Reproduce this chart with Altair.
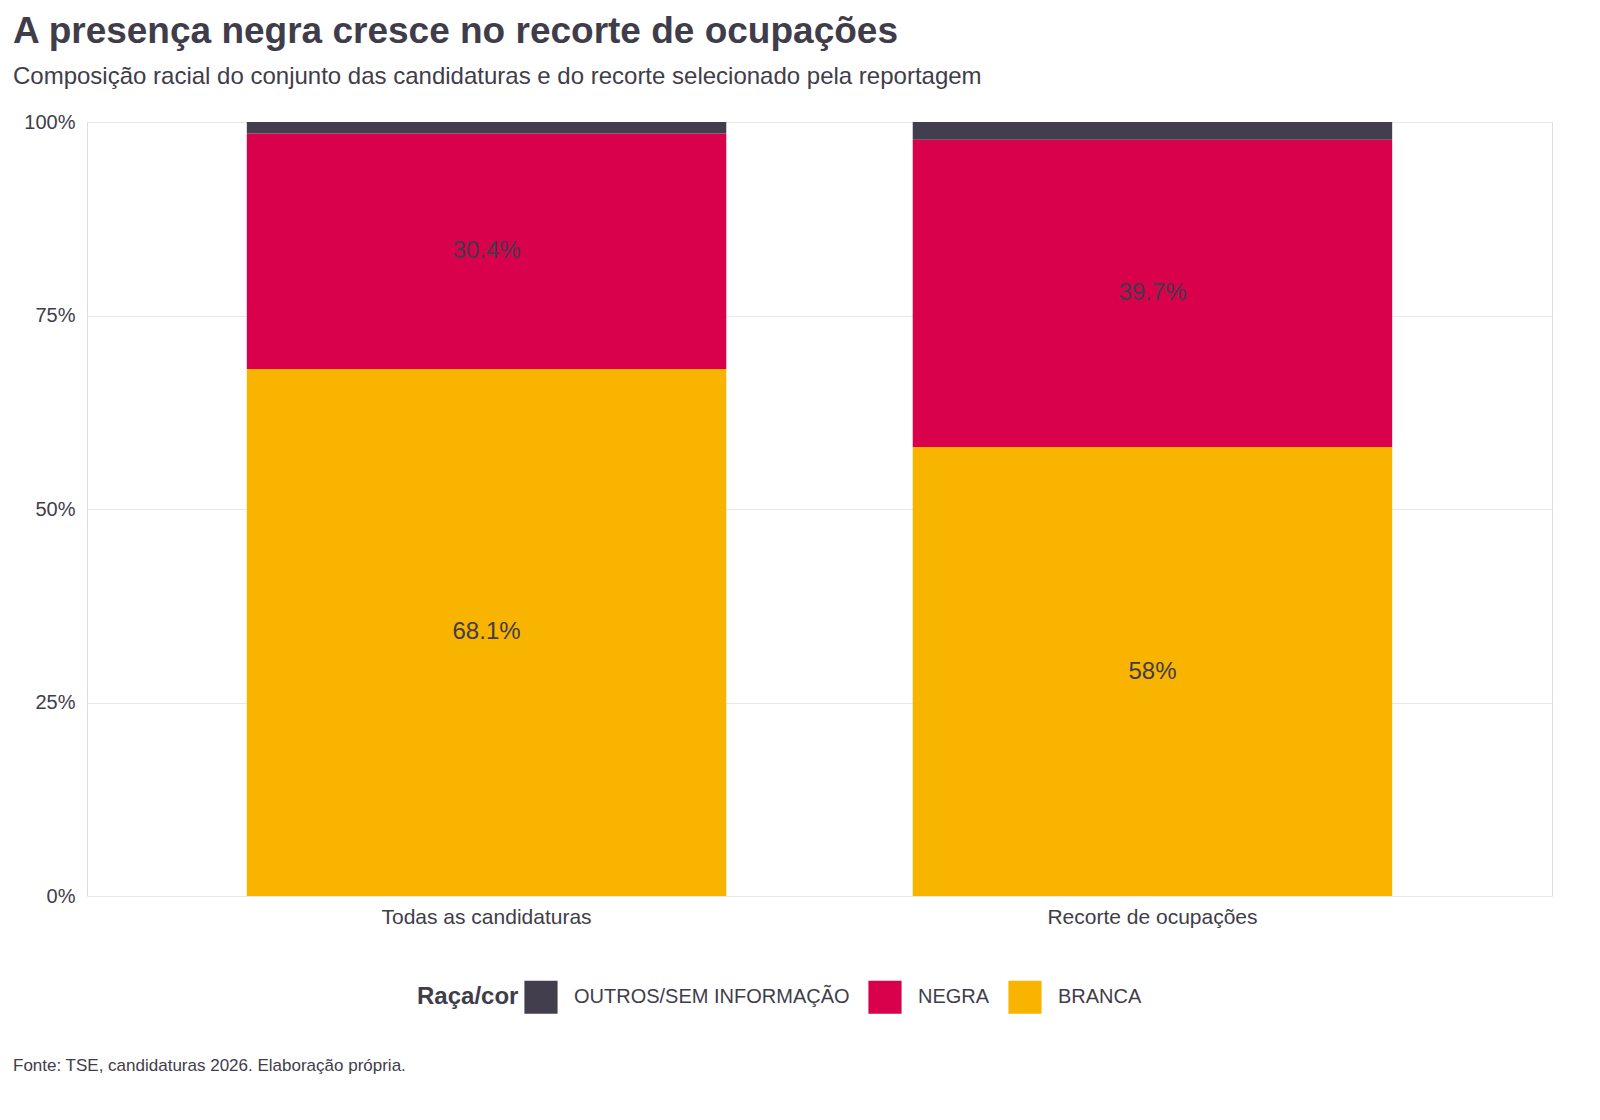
import altair as alt
import pandas as pd

grupos = ["Todas as candidaturas", "Recorte de ocupações"]
racas = ["OUTROS/SEM INFORMAÇÃO", "NEGRA", "BRANCA"]
branca = [68.1, 58.0]
negra = [30.4, 39.7]
outros = [1.5, 2.3]
cores = ["#433e4e", "#d9004c", "#f9b400"]
texto = "#3f3d4a"

rows = []
for i, g in enumerate(grupos):
    rows.append({"grupo": g, "raca": "BRANCA", "v": branca[i] / 100, "ordem": 0,
                 "mid": branca[i] / 200, "lab": f"{branca[i]:g}%"})
    rows.append({"grupo": g, "raca": "NEGRA", "v": negra[i] / 100, "ordem": 1,
                 "mid": (branca[i] + negra[i] / 2) / 100, "lab": f"{negra[i]:g}%"})
    rows.append({"grupo": g, "raca": "OUTROS/SEM INFORMAÇÃO", "v": outros[i] / 100, "ordem": 2,
                 "mid": None, "lab": ""})
df = pd.DataFrame(rows)

xenc = alt.X("grupo:N", sort=grupos, title=None,
             scale=alt.Scale(paddingInner=0.28, paddingOuter=0.24),
             axis=alt.Axis(labelAngle=0, labelFontSize=21, labelColor=texto, labelLimit=0,
                           ticks=False, domain=False, labelPadding=10))

bars = alt.Chart(df).mark_bar().encode(
    x=xenc,
    y=alt.Y("v:Q", stack="zero", title=None,
            scale=alt.Scale(domain=[0, 1]),
            axis=alt.Axis(format="%", values=[0, 0.25, 0.5, 0.75, 1], labelFontSize=20,
                          labelColor=texto, ticks=False, domain=False,
                          gridColor="#e8e8e8", labelPadding=12)),
    color=alt.Color("raca:N", sort=racas, title="Raça/cor",
                    scale=alt.Scale(domain=racas, range=cores),
                    legend=alt.Legend(orient="none", legendX=330, legendY=858,
                                      direction="horizontal",
                                      titleOrient="left", titleFontSize=24,
                                      titleColor=texto, labelFontSize=20, labelLimit=0,
                                      labelColor=texto, symbolType="square",
                                      symbolSize=1100, symbolStrokeWidth=0,
                                      columnPadding=18, labelOffset=16)),
    order=alt.Order("ordem:Q"),
)

labels = alt.Chart(df[df["lab"] != ""]).mark_text(fontSize=24, color=texto).encode(
    x=alt.X("grupo:N", sort=grupos),
    y=alt.Y("mid:Q"),
    text="lab:N",
)

fonte = alt.Chart(pd.DataFrame({"t": ["Fonte: TSE, candidaturas 2026. Elaboração própria."]})).mark_text(
    align="left", fontSize=17, color=texto
).encode(x=alt.value(-74), y=alt.value(944), text="t:N")

chart = alt.layer(bars, labels, fonte).properties(
    width=1465, height=774,
    title=alt.TitleParams(
        "A presença negra cresce no recorte de ocupações",
        subtitle="Composição racial do conjunto das candidaturas e do recorte selecionado pela reportagem",
        anchor="start", frame="group", offset=22, fontSize=37, fontWeight="bold",
        color=texto, subtitleFontSize=24, subtitleColor=texto, subtitlePadding=14,
        dx=-74,
    ),
).configure_view(stroke=None).configure(font="Liberation Sans")

chart.save("out.html", embed_options={"renderer": "svg", "actions": False})
